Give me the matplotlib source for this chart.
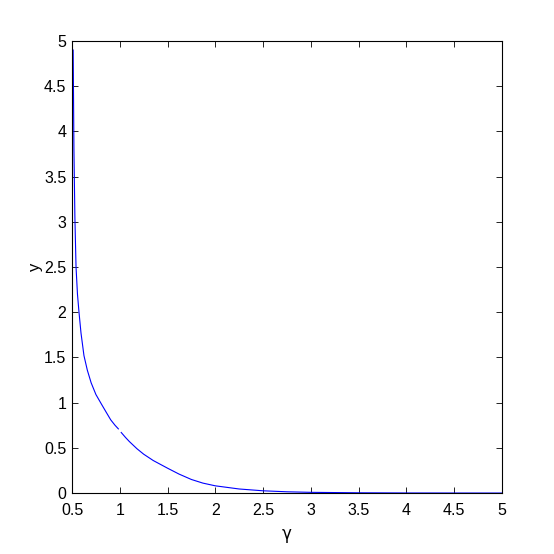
import numpy as np
import matplotlib.pyplot as plt

plt.rcParams['font.family'] = ['Liberation Sans', 'DejaVu Sans']

# values (gap at gamma = 1)
gamma = [0.512, 0.52, 0.53, 0.542, 0.557, 0.573, 0.594, 0.625, 0.66, 0.70,
         0.75, 0.81, 0.86, 0.905, 0.95, 0.985, 1.0, 1.015, 1.06, 1.1,
         1.18, 1.25, 1.35, 1.5, 1.62, 1.75, 1.87, 2.0, 2.25, 2.5,
         2.75, 3.0, 3.5, 4.0, 4.5, 5.0]
y = [4.9, 3.8, 3.05, 2.5, 2.2, 2.0, 1.77, 1.52, 1.36, 1.22,
     1.09, 0.98, 0.89, 0.81, 0.75, 0.71, np.nan, 0.67, 0.615, 0.57,
     0.49, 0.43, 0.36, 0.275, 0.21, 0.15, 0.11, 0.08, 0.045, 0.025,
     0.014, 0.008, 0.003, 0.001, 0.0005, 0.0002]

xticks = [0.5, 1, 1.5, 2, 2.5, 3, 3.5, 4, 4.5, 5]
xticklabels = ['0.5', '1', '1.5', '2', '2.5', '3', '3.5', '4', '4.5', '5']
yticks = [0, 0.5, 1, 1.5, 2, 2.5, 3, 3.5, 4, 4.5, 5]
yticklabels = ['0', '0.5', '1', '1.5', '2', '2.5', '3', '3.5', '4', '4.5', '5']

fig = plt.figure(figsize=(5.54, 5.54), dpi=100)
ax = fig.add_axes([0.130, 0.110, 0.776, 0.816])
ax.plot(gamma, y, color='#0000ff', linewidth=0.8)

ax.set_xlim(0.5, 5)
ax.set_ylim(0, 5)
ax.set_xticks(xticks)
ax.set_xticklabels(xticklabels)
ax.set_yticks(yticks)
ax.set_yticklabels(yticklabels)
ax.tick_params(direction='in', top=True, right=True, length=4, width=0.6,
               labelsize=11.5)
ax.tick_params(axis='x', pad=7)
ax.tick_params(axis='y', pad=4)
for s in ax.spines.values():
    s.set_linewidth(0.8)

ax.set_xlabel('γ', fontsize=12, labelpad=5, family='DejaVu Sans')
ax.set_ylabel('y', fontsize=12, labelpad=1)

fig.savefig('out.png', dpi=100)
